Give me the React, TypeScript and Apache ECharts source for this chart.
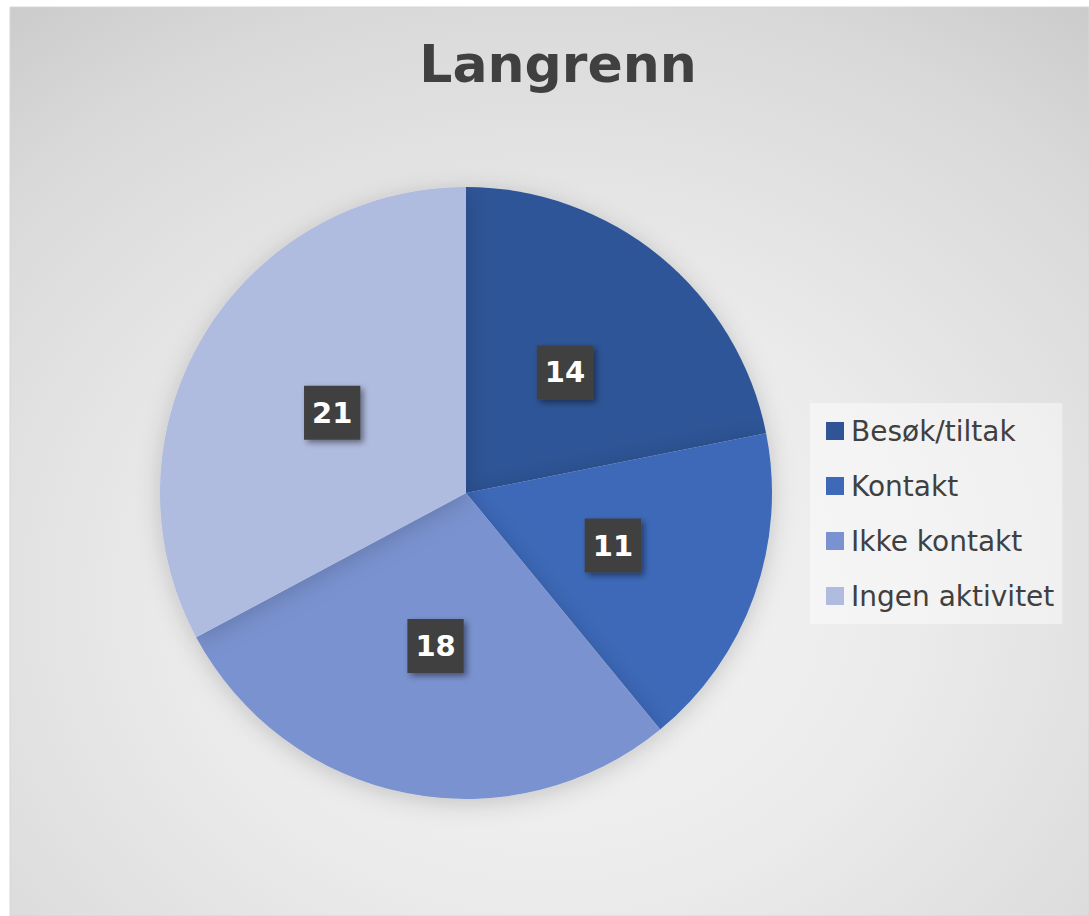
import React, { useEffect, useRef } from "react";
import * as echarts from "echarts";

const categories = ["Besøk/tiltak", "Kontakt", "Ikke kontakt", "Ingen aktivitet"];
const values = [14, 11, 18, 21];
const colors = ["#2F5597", "#3E69B8", "#7A92D0", "#B0BCDF"];
const titleText = "Langrenn";

export default function App() {
  const ref = useRef<HTMLDivElement>(null);
  useEffect(() => {
    if (!ref.current) return;
    const chart = echarts.init(ref.current, undefined, { renderer: "svg" });
    const font = "'DejaVu Sans', 'Noto Sans', sans-serif";
    chart.setOption({
      animation: false,
      backgroundColor: "#ffffff",
      graphic: [
        {
          type: "rect",
          z: -10,
          silent: true,
          shape: { x: 10, y: 7, width: 1079, height: 909 },
          style: {
            fill: {
              type: "radial",
              x: 0.5,
              y: 0.65,
              r: 0.95,
              colorStops: [
                { offset: 0, color: "#f4f4f4" },
                { offset: 0.35, color: "#ebebeb" },
                { offset: 0.7, color: "#d9d9d9" },
                { offset: 1, color: "#c0c0c0" },
              ],
            },
            stroke: "#d6d6d6",
            lineWidth: 1,
          },
        },
      ],
      title: {
        text: titleText,
        left: 553,
        top: 33,
        textAlign: "center",
        textStyle: {
          fontFamily: font,
          fontSize: 52,
          fontWeight: "bold",
          color: "#404040",
        },
      },
      legend: {
        orient: "vertical",
        left: 810,
        top: 403,
        padding: [14, 8, 14, 16],
        backgroundColor: "rgba(255,255,255,0.45)",
        itemWidth: 18,
        itemHeight: 18,
        itemGap: 27,
        icon: "rect",
        data: categories,
        textStyle: {
          fontFamily: font,
          fontSize: 28,
          lineHeight: 28,
          color: "#404040",
          padding: [0, 0, 0, 2],
        },
      },
      series: [
        {
          type: "pie",
          center: [466, 493],
          radius: 306,
          startAngle: 90,
          clockwise: true,
          silent: true,
          data: categories.map((name, i) => ({
            name,
            value: values[i],
            itemStyle: { color: colors[i] },
          })),
          itemStyle: {
            shadowBlur: 25,
            shadowColor: "rgba(0,0,0,0.18)",
            shadowOffsetY: 4,
          },
          label: {
            show: true,
            position: "inside",
            formatter: "{c}",
            fontFamily: font,
            fontSize: 29,
            fontWeight: "bold",
            color: "#ffffff",
            backgroundColor: "#404040",
            padding: [13, 8, 12, 8],
            shadowColor: "rgba(0,0,0,0.45)",
            shadowBlur: 6,
            shadowOffsetX: 3,
            shadowOffsetY: 3,
          },
          labelLine: { show: false },
        },
      ],
    });
    return () => chart.dispose();
  }, []);
  return (
    <div
      ref={ref}
      style={{ position: "fixed", left: 0, top: 0, width: 1089, height: 916 }}
    />
  );
}
